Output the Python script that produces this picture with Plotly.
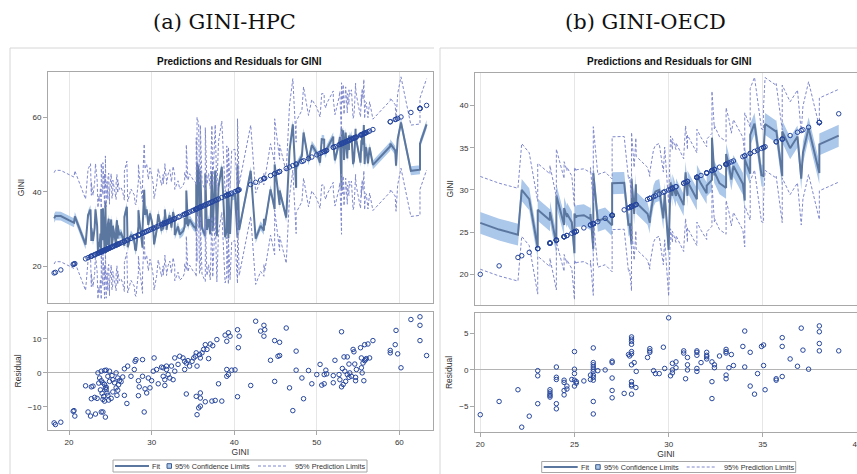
import plotly.graph_objects as go

# ---------------- data ----------------
# GINI-HPC : observed GINI and residual (observed - predicted)
hpc_gini = [18.19, 18.35, 19.0, 20.5, 20.6, 20.7, 22.0, 22.3, 22.6, 22.7, 22.7, 22.9, 23.1, 23.2, 23.4,
            23.5, 23.6, 23.7, 23.8, 23.9, 23.9, 23.9, 24.0, 24.1, 24.1, 24.1, 24.2, 24.3, 24.3, 24.3,
            24.4, 24.4, 24.5, 24.5, 24.5, 24.6, 24.7, 24.7, 24.8, 24.9, 24.9, 25.1, 25.2, 25.3, 25.3,
            25.5, 25.7, 25.7, 25.8, 25.9, 25.9, 26.0, 26.1, 26.3, 26.5, 26.7, 26.7, 27.0, 27.1, 27.5,
            27.9, 28.0, 28.1, 28.4, 28.4, 28.5, 28.9, 28.9, 29.1, 29.2, 29.4, 29.6, 29.8, 30.0, 30.2,
            30.3, 30.6, 30.8, 31.2, 31.4, 31.4, 31.6, 31.6, 31.8, 31.8, 32.0, 32.2, 32.4, 32.6, 32.8,
            32.8, 33.2, 33.4, 33.8, 34.0, 34.0, 34.2, 34.2, 34.4, 34.6, 34.9, 35.1, 35.3, 35.4, 35.4,
            35.5, 35.5, 35.7, 35.8, 35.9, 35.9, 35.9, 35.9, 36.1, 36.3, 36.5, 36.5, 36.7, 36.9, 37.1,
            37.3, 37.4, 37.7, 37.9, 38.1, 38.5, 38.9, 39.1, 39.1, 39.1, 39.3, 39.3, 39.5, 39.7, 40.1,
            40.4, 40.4, 40.5, 40.6, 42.0, 42.6, 43.2, 43.6, 43.6, 43.7, 44.4, 44.9, 44.9, 45.3, 45.5,
            45.5, 46.3, 46.7, 47.1, 47.5, 47.5, 48.2, 48.4, 49.0, 49.4, 50.0, 50.4, 50.6, 50.9, 50.9,
            51.1, 51.2, 52.0, 52.0, 52.2, 52.7, 52.8, 53.0, 53.0, 53.1, 53.2, 53.3, 53.4, 53.5, 53.7,
            53.7, 53.9, 53.9, 54.0, 54.2, 54.4, 54.5, 54.6, 54.7, 54.7, 54.8, 55.3, 55.4, 55.4, 55.5,
            55.6, 55.7, 55.8, 55.8, 55.9, 56.0, 56.2, 56.4, 56.8, 58.9, 58.9, 59.5, 59.6, 59.8, 60.2,
            61.4, 62.5, 62.5, 62.5, 63.3]
hpc_resid = [-14.7, -15.2, -14.5, -11.3, -11.1, -12.7, -3.8, -11.5, -12.7, -4.1, -7.6, -3.9, -7.2, -12.1, -7.5,
             0.0, -3.0, -1.5, -5.0, 0.5, -2.3, -11.5, -6.0, -2.9, -7.8, -11.5, -6.9, 0.7, -3.4, -8.3,
             -4.4, -13.0, 0.8, -4.2, -4.9, -5.9, -1.0, -6.6, -8.0, 0.5, -2.5, -7.5, -0.8, -2.0, -5.6,
             -2.9, 0.0, -4.4, -6.6, -1.5, -5.1, -3.5, -2.3, -2.6, -1.2, 1.2, -6.6, -9.0, 2.0, -1.0,
             1.0, 3.4, 3.9, -2.3, -6.7, -4.1, 3.9, -1.0, -11.5, -4.7, -5.9, -1.5, -4.4, -2.3, 0.5,
             4.4, 1.0, -3.2, 1.7, -1.0, 1.5, -2.0, -3.7, 1.0, 2.0, -0.5, -1.5, 2.0, -2.0, 0.5,
             4.4, 2.5, 4.9, 4.4, 3.4, 1.0, 2.9, -6.2, 3.6, 2.0, 3.4, 4.4, 4.9, 5.9, -6.9,
             2.0, -12.3, -10.3, 5.4, 4.4, -5.9, -7.4, -9.8, 5.9, 6.9, 8.3, -8.5, 6.9, 4.2, 8.5,
             -8.3, 8.0, -8.1, 9.8, -3.2, -8.3, 11.1, 9.3, 1.0, -1.0, 11.8, -0.5, 10.8, 0.8, 0.9,
             12.7, -7.0, 7.4, 10.8, -3.7, 15.2, 12.3, 14.0, 10.8, 12.7, 3.7, 9.5, -2.5, 4.9, 9.0,
             5.1, 13.2, -4.4, -11.1, 6.4, 0.8, -1.5, -7.6, 0.7, -3.2, -0.5, 2.5, -3.6, -3.2, -0.5,
             0.8, -0.3, -2.9, -0.8, 3.7, -0.5, -2.0, 12.1, -4.1, 1.3, -3.4, 4.7, 0.5, -2.5, 4.7,
             -0.5, 2.6, -1.3, 0.0, -1.0, 6.9, 6.2, 2.6, -2.3, -1.3, 1.0, 7.4, 1.5, 4.4, 0.0,
             2.9, -2.3, 3.6, 8.3, 3.9, 4.2, 8.5, 4.4, 9.5, 6.6, 5.9, 8.3, 12.5, 5.6, 1.5,
             15.7, 16.5, 14.0, 9.5, 5.1]
hpc_cl_halfwidth = 1.2
hpc_pl_halfwidth = 12.3

# GINI-OECD : observed GINI and residual
oecd_gini = [20.0, 21.0, 22.0, 22.2, 22.6, 23.05, 23.05, 23.05, 23.7, 23.7, 23.7, 23.7, 23.7, 24.04, 24.04,
             24.04, 24.04, 24.04, 24.45, 24.45, 24.45, 24.45, 24.6, 24.6, 24.86, 25.0, 25.0, 25.0, 25.0, 25.0,
             25.1, 25.1, 25.5, 25.85, 25.85, 26.0, 26.0, 26.0, 26.0, 26.0, 26.0, 26.0, 26.0, 26.0, 26.0,
             26.0, 26.24, 26.63, 27.0, 27.0, 27.0, 27.0, 27.0, 27.64, 27.87, 27.93, 28.03, 28.03, 28.03, 28.03,
             28.03, 28.03, 28.03, 28.03, 28.03, 28.03, 28.03, 28.17, 28.26, 28.28, 28.88, 29.0, 29.0, 29.0, 29.2,
             29.3, 29.5, 29.72, 29.79, 30.0, 30.1, 30.2, 30.2, 30.2, 30.39, 30.39, 30.8, 30.8, 30.9, 31.0,
             31.0, 31.0, 31.5, 31.5, 31.5, 31.5, 31.5, 31.72, 32.02, 32.02, 32.02, 32.02, 32.3, 32.3, 32.3,
             32.43, 32.43, 32.7, 33.05, 33.05, 33.05, 33.05, 33.05, 33.2, 33.33, 33.44, 33.94, 34.04, 34.04, 34.33,
             34.33, 34.56, 34.72, 34.93, 35.04, 35.04, 35.12, 35.71, 35.71, 36.03, 36.03, 36.03, 36.45, 36.84, 37.04,
             37.13, 37.43, 38.0, 38.0, 38.0, 38.0, 39.03]
oecd_resid = [-6.1, -4.3, -2.7, -7.8, -6.3, -0.1, -0.8, -4.6, -2.7, -3.0, -3.3, -3.5, -3.7, 0.4, -1.0,
              -1.3, -4.6, -5.3, -1.4, -1.7, -2.8, -3.4, -2.2, -2.6, -1.3, 2.5, 0.1, -0.5, -1.4, -2.2,
              -1.6, -1.8, -1.5, -0.7, -1.3, 3.0, 1.0, 0.7, 0.4, 0.1, -0.2, -0.7, -1.0, -1.4, -4.3,
              -6.0, -0.1, 0.0, 1.2, 1.0, -1.1, -2.8, -3.8, -3.2, 2.1, 1.9, 4.5, 4.2, 3.9, 3.5,
              2.5, 2.2, 0.7, -1.6, -2.0, -2.2, -3.3, 1.0, -2.4, -0.2, 1.7, 2.9, 2.6, 2.4, -0.1,
              -0.5, -0.5, 3.1, 0.2, 7.1, -0.8, 0.9, 0.0, -0.4, 1.1, 0.3, 2.6, 2.3, -1.2, 1.7,
              0.7, 0.0, 2.6, 2.4, 2.0, 0.2, -0.2, 1.0, 2.4, 2.0, 1.8, 1.5, 1.1, -1.6, -3.9,
              0.7, 0.3, 1.9, 2.8, 2.5, 2.3, -0.7, -1.2, 0.3, 2.1, 0.6, 3.2, 5.3, 0.4, 2.4,
              -2.2, -3.3, -0.5, 3.2, 3.4, 0.6, -2.7, -1.2, -1.4, 4.4, 3.2, -0.9, 1.5, 0.5, 5.7,
              2.7, 0.1, 6.0, 5.2, 3.6, 2.6, 2.6]
oecd_cl_halfwidth = 1.3
oecd_pl_halfwidth = 5.5

hpc_xticks = [20, 30, 40, 50, 60]
hpc_yticks = [20, 40, 60]
hpc_rticks = [-10, 0, 10]
oecd_xticks = [20, 25, 30, 35, 40]
oecd_yticks = [20, 25, 30, 35, 40]
oecd_rticks = [-5, 0, 5]

headers = ["(a) GINI-HPC", "(b) GINI-OECD"]
panel_title = "Predictions and Residuals for GINI"
legend_labels = ["Fit", "95% Confidence Limits", "95% Prediction Limits"]

# ---------------- styling ----------------
W, H = 857, 474
FIT_C = "#5b77a0"
CL_C = "#abc7e9"
PL_C = "#7f88cc"
OBS_C = "#27479e"
AX_C = "#a8a8a8"
GRID_C = "#e6e6e6"
SANS = "Liberation Sans, Arial, sans-serif"


def fx(p):
    return p / W


def fy(p):
    return 1 - p / H


fig = go.Figure()


def add_panel(gini, resid, clhw, plhw, xt, yt, xr, yr):
    order = sorted(range(len(gini)), key=lambda i: gini[i])
    xs = [gini[i] for i in order]
    fit = [gini[i] - resid[i] for i in order]
    rs = [resid[i] for i in order]
    common = dict(xaxis=xt, yaxis=yt, showlegend=False, hoverinfo="skip")
    fig.add_trace(go.Scatter(x=xs, y=[f - clhw for f in fit], mode="lines",
                             line=dict(width=0, color=CL_C), **common))
    fig.add_trace(go.Scatter(x=xs, y=[f + clhw for f in fit], mode="lines", fill="tonexty",
                             fillcolor=CL_C, line=dict(width=0, color=CL_C), **common))
    fig.add_trace(go.Scatter(x=xs, y=fit, mode="lines", line=dict(width=2, color=FIT_C), **common))
    for s in (-1, 1):
        fig.add_trace(go.Scatter(x=xs, y=[f + s * plhw for f in fit], mode="lines",
                                 line=dict(width=1, color=PL_C, dash="3px,2px"), **common))
    fig.add_trace(go.Scatter(x=xs, y=xs, mode="markers",
                             marker=dict(symbol="circle-open", size=4.5, color=OBS_C,
                                         line=dict(width=1, color=OBS_C)), **common))
    fig.add_trace(go.Scatter(x=xs, y=rs, mode="markers", xaxis=xr, yaxis=yr, showlegend=False,
                             hoverinfo="skip",
                             marker=dict(symbol="circle-open", size=4.5, color=OBS_C,
                                         line=dict(width=1, color=OBS_C))))


add_panel(hpc_gini, hpc_resid, hpc_cl_halfwidth, hpc_pl_halfwidth, "x", "y", "x3", "y3")
add_panel(oecd_gini, oecd_resid, oecd_cl_halfwidth, oecd_pl_halfwidth, "x2", "y2", "x4", "y4")

tickfont = dict(family=SANS, size=8, color="#333333")
titlefont = dict(family=SANS, size=8.5, color="#333333")


def xax(domain, rng, ticks, anchor, labels, title=None, match=None):
    d = dict(domain=domain, range=rng, anchor=anchor, tickvals=ticks, showgrid=True,
             gridcolor=GRID_C, gridwidth=1, zeroline=False, showline=True, linecolor=AX_C,
             linewidth=1, mirror=True, tickfont=tickfont, ticklabeloverflow="allow",
             automargin=False)
    if labels:
        d.update(ticks="outside", ticklen=4, tickcolor=AX_C, showticklabels=True)
    else:
        d.update(ticks="", showticklabels=False)
    if title:
        d["title"] = dict(text=title, font=titlefont, standoff=3)
    if match:
        d["matches"] = match
    return d


def yax(domain, rng, ticks, anchor, title, standoff, zero=False):
    return dict(domain=domain, range=rng, anchor=anchor, tickvals=ticks, showgrid=False,
                zeroline=zero, zerolinecolor="#b4b4b4", zerolinewidth=1,
                showline=True, linecolor=AX_C, linewidth=1, mirror=True, automargin=False,
                ticks="outside", ticklen=4, tickcolor=AX_C, tickfont=tickfont,
                title=dict(text=title, font=titlefont, standoff=standoff))


L_dom = [fx(48), fx(432.7)]
R_dom = [fx(475), 1.0]
fig.update_layout(
    width=W, height=H, margin=dict(l=0, r=0, t=0, b=0, autoexpand=False),
    paper_bgcolor="white", plot_bgcolor="white", showlegend=False,
    xaxis=xax(L_dom, [17.45, 64.04], hpc_xticks, "y", False),
    yaxis=yax([fy(303), fy(72)], [10.1, 72.3], hpc_yticks, "x", "GINI", 6),
    xaxis3=xax(L_dom, [17.45, 64.04], hpc_xticks, "y3", True, "GINI", "x"),
    yaxis3=yax([fy(430), fy(311.7)], [-16.8, 18.0], hpc_rticks, "x3", "Residual", 4, True),
    xaxis2=xax(R_dom, [19.72, 40.0], oecd_xticks, "y2", False),
    yaxis2=yax([fy(305), fy(72.7)], [16.36, 43.9], oecd_yticks, "x2", "GINI", 4),
    xaxis4=xax(R_dom, [19.72, 40.0], oecd_xticks, "y4", True, "GINI", "x2"),
    yaxis4=yax([fy(432.3), fy(312.7)], [-8.5, 7.8], oecd_rticks, "x4", "Residual", 5, True),
)

# panel frames
frame = dict(color="#d6d6d6", width=1)
shapes = [
    dict(type="line", xref="paper", yref="paper", x0=fx(10), x1=fx(10), y0=0, y1=fy(48), line=frame),
    dict(type="line", xref="paper", yref="paper", x0=fx(10), x1=fx(434), y0=fy(48), y1=fy(48), line=frame),
    dict(type="line", xref="paper", yref="paper", x0=fx(440), x1=fx(440), y0=0, y1=fy(48), line=frame),
    dict(type="line", xref="paper", yref="paper", x0=fx(440), x1=1, y0=fy(48), y1=fy(48), line=frame),
]
annotations = []
for cx, hdr in zip([224, 645], headers):
    annotations.append(dict(text=hdr, x=fx(cx), y=fy(22), xref="paper", yref="paper", showarrow=False,
                            xanchor="center", yanchor="middle",
                            font=dict(family="DejaVu Serif, serif", size=21, color="#111111")))
for cx in [240, 669]:
    annotations.append(dict(text="<b>" + panel_title + "</b>", x=fx(cx), y=fy(62), xref="paper",
                            yref="paper", showarrow=False, xanchor="center", yanchor="middle",
                            font=dict(family=SANS, size=10, color="#111111")))

# legends (one per panel)
lfont = dict(family=SANS, size=7.3, color="#333333")
for bx, y0, y1 in [(113, 460, 472), (541.7, 461.5, 472.5)]:
    ym = (y0 + y1) / 2
    shapes.append(dict(type="rect", xref="paper", yref="paper", x0=fx(bx), x1=fx(bx + 254),
                       y0=fy(y1), y1=fy(y0), line=dict(color="#a6a6a6", width=1), fillcolor="white"))
    shapes.append(dict(type="line", xref="paper", yref="paper", x0=fx(bx + 2), x1=fx(bx + 36),
                       y0=fy(ym), y1=fy(ym), line=dict(color=FIT_C, width=2)))
    shapes.append(dict(type="rect", xref="paper", yref="paper", x0=fx(bx + 54), x1=fx(bx + 58.5),
                       y0=fy(ym + 2.3), y1=fy(ym - 2.3), line=dict(color="#3d5a8a", width=1),
                       fillcolor=CL_C))
    shapes.append(dict(type="line", xref="paper", yref="paper", x0=fx(bx + 145), x1=fx(bx + 175),
                       y0=fy(ym), y1=fy(ym), line=dict(color=PL_C, width=1, dash="3px,2px")))
    for off, lab in zip([37, 60, 180], legend_labels):
        annotations.append(dict(text=lab, x=fx(bx + off), y=fy(ym), xref="paper", yref="paper",
                                showarrow=False, xanchor="left", yanchor="middle", font=lfont))

fig.update_layout(shapes=shapes, annotations=annotations)
fig.write_html("out.html", config={"displayModeBar": False},
               post_script="document.body.style.margin='0';document.body.style.overflow='hidden';")
